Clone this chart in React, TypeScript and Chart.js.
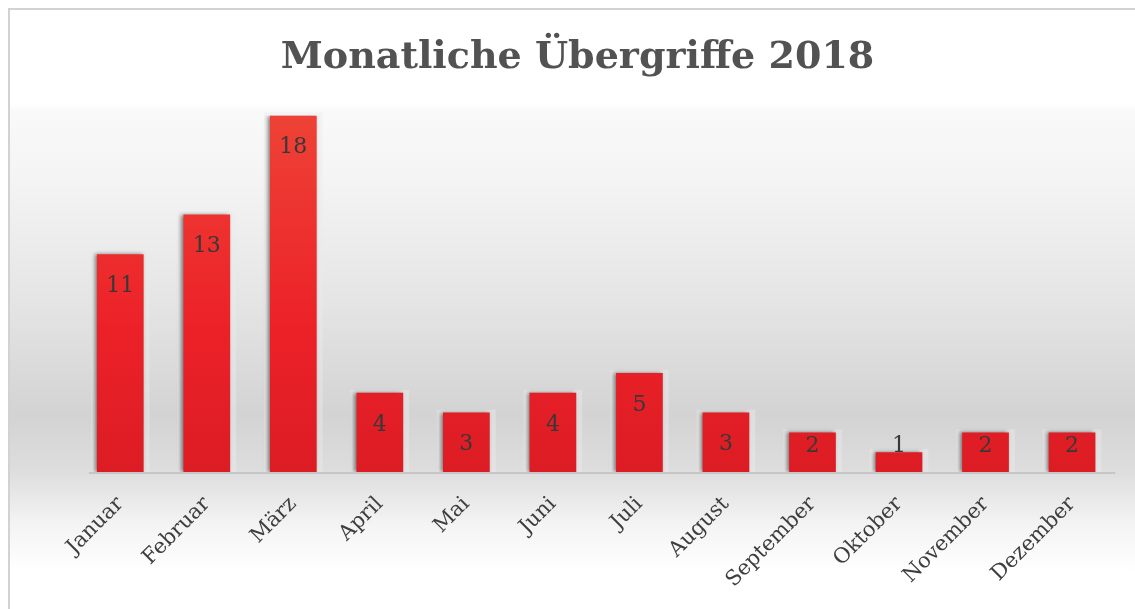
import React, { useEffect, useRef } from "react";
import { Chart, registerables } from "chart.js";

Chart.register(...registerables);

const months = ["Januar", "Februar", "März", "April", "Mai", "Juni", "Juli", "August", "September", "Oktober", "November", "Dezember"];
const incidents = [11, 13, 18, 4, 3, 4, 5, 3, 2, 1, 2, 2];
const chartTitle = "Monatliche Übergriffe 2018";

const FONT = "'DejaVu Serif', serif";

const backgroundPlugin = {
  id: "bgGradient",
  beforeDraw(chart: any) {
    const { ctx, width, height } = chart;
    ctx.save();
    const g = ctx.createLinearGradient(0, 0, 0, height);
    const s = (y: number) => Math.min(1, Math.max(0, (y - 8) / height));
    g.addColorStop(0, "#ffffff");
    g.addColorStop(s(104), "#ffffff");
    g.addColorStop(s(112), "#f9f9f9");
    g.addColorStop(s(180), "#f4f4f4");
    g.addColorStop(s(300), "#e5e5e5");
    g.addColorStop(s(415), "#d3d3d3");
    g.addColorStop(s(470), "#dddddd");
    g.addColorStop(s(525), "#f4f4f4");
    g.addColorStop(s(572), "#ffffff");
    g.addColorStop(1, "#ffffff");
    ctx.fillStyle = g;
    ctx.fillRect(0, 0, width, height);
    ctx.fillStyle = "#d2d2d2";
    ctx.fillRect(0, 0, width, 2);
    ctx.fillRect(0, 0, 2, height);
    ctx.restore();
  },
};

const shadowPlugin = {
  id: "barShadow",
  beforeDatasetsDraw(chart: any) {
    const { ctx } = chart;
    const meta = chart.getDatasetMeta(0);
    ctx.save();
    ctx.fillStyle = "rgba(236,236,236,0.45)";
    meta.data.forEach((bar: any) => {
      const w = bar.width;
      ctx.fillRect(bar.x - w / 2 - 6, bar.y - 3, w + 12, bar.base - bar.y + 3);
    });
    ctx.restore();
    const xs = chart.scales.x;
    const y0 = chart.scales.y.getPixelForValue(0);
    ctx.save();
    ctx.strokeStyle = "#c6c6c6";
    ctx.lineWidth = 2;
    ctx.beginPath();
    ctx.moveTo(meta.data[0].x - meta.data[0].width / 2 - 8, y0 + 1);
    ctx.lineTo(xs.right, y0 + 1);
    ctx.stroke();
    ctx.restore();
    ctx.save();
    ctx.shadowColor = "rgba(50,50,50,0.6)";
    ctx.shadowBlur = 4;
    ctx.shadowOffsetX = -2;
    ctx.shadowOffsetY = 0;
  },
  afterDatasetsDraw(chart: any) {
    chart.ctx.restore();
    const { ctx } = chart;
    const meta = chart.getDatasetMeta(0);
    ctx.save();
    ctx.fillStyle = "#383838";
    ctx.font = `22px ${FONT}`;
    ctx.textAlign = "center";
    ctx.textBaseline = "middle";
    meta.data.forEach((bar: any, i: number) => {
      const h = bar.base - bar.y;
      const off = Math.min(32, h - 26);
      ctx.fillText(String(incidents[i]), bar.x, bar.y + off);
    });
    ctx.restore();
  },
};

export default function App() {
  const ref = useRef<HTMLCanvasElement>(null);
  useEffect(() => {
    document.body.style.overflow = "hidden";
    document.documentElement.style.overflow = "hidden";
    if (!ref.current) return;
    const chart = new Chart(ref.current, {
      type: "bar",
      data: {
        labels: months,
        datasets: [
          {
            data: incidents,
            backgroundColor: (c: any) => {
              const a = c.chart.chartArea;
              if (!a) return "#e8262a";
              const g = c.chart.ctx.createLinearGradient(0, a.top, 0, a.bottom);
              g.addColorStop(0, "#ee4236");
              g.addColorStop(0.6, "#ec2128");
              g.addColorStop(1, "#dc1c24");
              return g;
            },
            borderWidth: 0,
            categoryPercentage: 1,
            barPercentage: 0.54,
          },
        ],
      },
      options: {
        animation: false,
        responsive: false,
        maintainAspectRatio: false,
        layout: { padding: 0 },
        plugins: {
          legend: { display: false },
          tooltip: { enabled: false },
          title: {
            display: true,
            text: chartTitle,
            color: "#525252",
            font: { family: FONT, size: 38, weight: "bold" },
            padding: { top: 27, bottom: 35 },
          },
        },
        scales: {
          x: {
            grid: { display: false },
            border: { display: false },
            ticks: {
              color: "#3e3e3e",
              font: { family: FONT, size: 21 },
              minRotation: 45,
              maxRotation: 45,
              padding: 12,
            },
            afterFit: (s: any) => {
              s.height = 137;
            },
          },
          y: {
            min: 0,
            max: 18,
            grid: { display: false },
            border: { display: false },
            ticks: { display: false },
            afterFit: (s: any) => {
              s.width = 69;
            },
          },
          y2: {
            position: "right",
            min: 0,
            max: 18,
            grid: { display: false },
            border: { display: false },
            ticks: { display: false },
            afterFit: (s: any) => {
              s.width = 31.7;
            },
          },
        },
      },
      plugins: [backgroundPlugin, shadowPlugin],
    } as any);
    return () => chart.destroy();
  }, []);
  return (
    <div style={{ position: "absolute", left: 8, top: 8, width: 1127, height: 601, overflow: "hidden" }}>
      <canvas ref={ref} width={1139} height={601} style={{ display: "block" }} />
    </div>
  );
}
